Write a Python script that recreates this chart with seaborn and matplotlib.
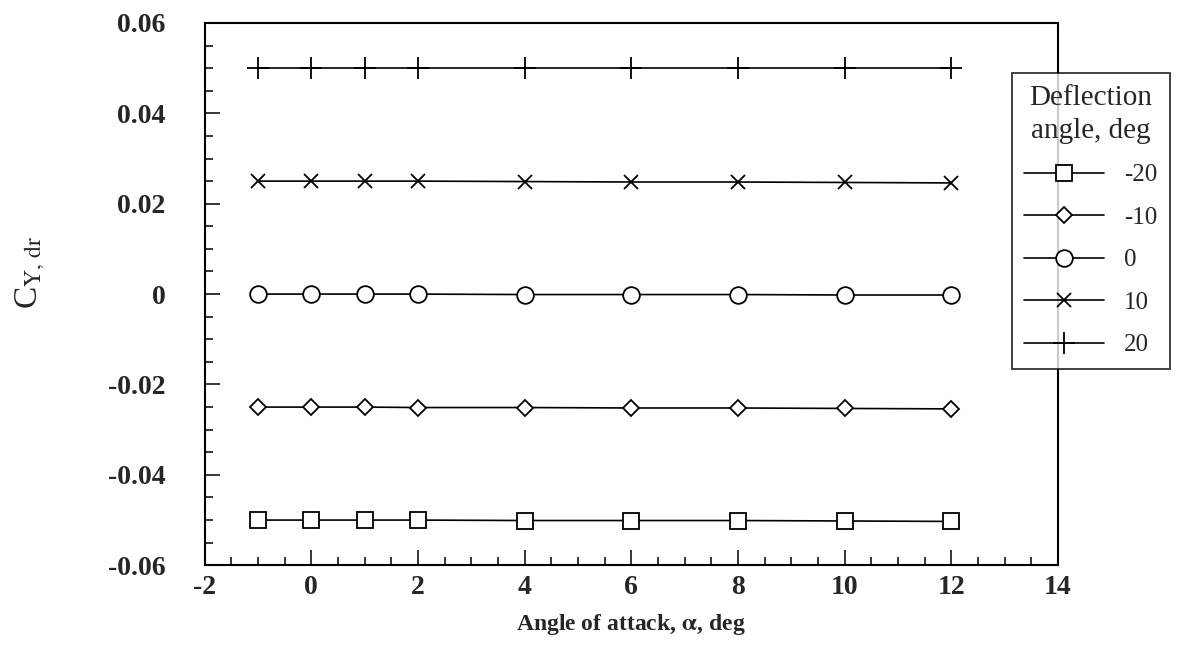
import numpy as np
import pandas as pd
import seaborn as sns
import matplotlib.pyplot as plt
from matplotlib.ticker import MultipleLocator

# angle of attack, deg
alpha = [-1, 0, 1, 2, 4, 6, 8, 10, 12]

# side force derivative for each rudder deflection
cy_m20 = [-0.0500, -0.0500, -0.0500, -0.0500, -0.0501, -0.0501, -0.0501, -0.0502, -0.0503]
cy_m10 = [-0.0250, -0.0250, -0.0250, -0.0251, -0.0251, -0.0252, -0.0252, -0.0253, -0.0254]
cy_0 = [0.0000, 0.0000, 0.0000, 0.0000, -0.0001, -0.0001, -0.0001, -0.0002, -0.0002]
cy_10 = [0.0250, 0.0250, 0.0250, 0.0250, 0.0249, 0.0248, 0.0248, 0.0247, 0.0246]
cy_20 = [0.0500, 0.0500, 0.0500, 0.0500, 0.0500, 0.0500, 0.0500, 0.0500, 0.0500]

deflections = ["-20", "-10", "0", "10", "20"]
series = [cy_m20, cy_m10, cy_0, cy_10, cy_20]
markers = ["s", "D", "o", "x", "+"]
msizes = [11, 8, 12, 10, 16]

sns.set_style("ticks")
plt.rcParams["font.family"] = ["Liberation Serif", "DejaVu Serif"]
plt.rcParams["mathtext.fontset"] = "stix"

fig = plt.figure(figsize=(11.9, 6.55), dpi=100)
ax = fig.add_axes([0.172, 0.137, 0.717, 0.828])

for lab, vals, mk, ms in zip(deflections, series, markers, msizes):
    df = pd.DataFrame({"alpha": alpha, "cy": vals})
    sns.lineplot(data=df, x="alpha", y="cy", ax=ax, color="black", lw=1.2,
                 marker=mk, markersize=ms, markerfacecolor="white",
                 markeredgecolor="black", markeredgewidth=1.3, label=lab)

ax.set_xlim(-2, 14)
ax.set_ylim(-0.06, 0.06)
ax.xaxis.set_major_locator(MultipleLocator(2))
ax.xaxis.set_minor_locator(MultipleLocator(0.5))
ax.yaxis.set_major_locator(MultipleLocator(0.02))
ax.yaxis.set_minor_locator(MultipleLocator(0.005))
ax.tick_params(which="both", direction="in", width=1.3, top=False, right=False)
ax.tick_params(which="major", length=11, labelsize=20)
ax.tick_params(which="minor", length=6)
ax.tick_params(axis="y", which="major", pad=28)
ax.tick_params(axis="x", which="major", pad=7)
ax.xaxis.set_major_formatter(plt.FuncFormatter(lambda v, p: f"{v:.0f}".replace("\u2212", "-")))
ax.yaxis.set_major_formatter(plt.FuncFormatter(lambda v, p: "0" if abs(v) < 1e-9 else f"{v:.2f}"))
for t in ax.get_xticklabels() + ax.get_yticklabels():
    t.set_fontweight("bold")
for s in ax.spines.values():
    s.set_linewidth(1.5)
    s.set_color("black")

ax.set_xlabel("Angle of attack, $\\mathbf{\\alpha}$, deg", fontsize=17, fontweight="bold", labelpad=9)
ax.set_ylabel("C$_{\\mathrm{Y,\\,dr}}$", fontsize=24)
ax.yaxis.set_label_coords(-0.185, 0.54)

leg = ax.legend(title="Deflection\nangle, deg", loc="upper left",
                bbox_to_anchor=(0.931, 0.931), fontsize=18, title_fontsize=21,
                frameon=True, fancybox=False, edgecolor="black",
                handlelength=3.2, labelspacing=0.8, borderpad=0.5)
leg.get_frame().set_linewidth(1.3)
leg.get_title().set_multialignment("center")
leg.get_title().set_linespacing(1.35)
leg._legend_box.sep = 14

fig.savefig("out.png", dpi=100)
